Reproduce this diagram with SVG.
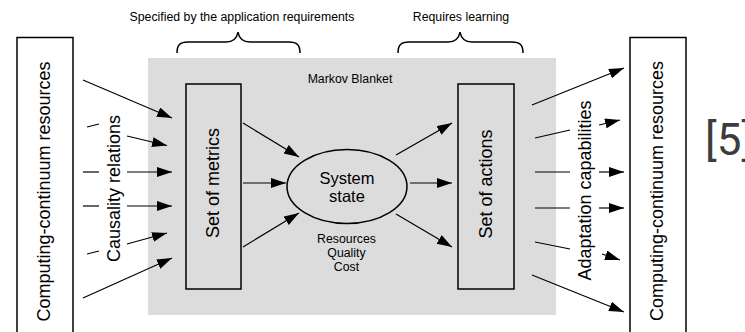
<svg xmlns="http://www.w3.org/2000/svg" width="745" height="332" viewBox="0 0 745 332">
  <defs>
    <marker id="head" markerUnits="userSpaceOnUse" markerWidth="16" markerHeight="11" refX="15" refY="5" orient="auto">
      <path d="M0,0 L15,5 L0,10 Z" fill="#000"/>
    </marker>
    <style>
      .box { fill: #fff; stroke: #000; stroke-width: 1.5; }
      .inner { fill: none; stroke: #000; stroke-width: 1.5; }
      .big { font-family: "Liberation Sans", Arial, sans-serif; font-size: 18px; fill: #000; text-anchor: middle; }
      .small { font-family: "Liberation Sans", Arial, sans-serif; font-size: 12.3px; fill: #000; text-anchor: middle; }
      .mid { font-family: "Liberation Sans", Arial, sans-serif; font-size: 16.5px; fill: #000; text-anchor: middle; }
      .wire { stroke: #000; stroke-width: 1.2; fill: none; }
      .arrow { stroke: #000; stroke-width: 1.2; fill: none; marker-end: url(#head); }
      .brace { stroke: #000; stroke-width: 1.5; fill: none; }
    </style>
  </defs>

  <rect width="745" height="332" fill="#fff"/>

  <!-- Markov blanket region -->
  <g id="markov-blanket">
    <rect x="148" y="58" width="408" height="257" fill="#dcdcdc"/>
    <text class="small" x="350" y="83">Markov Blanket</text>
  </g>

  <!-- Braces with captions -->
  <g id="brace-requirements">
    <text class="small" x="242" y="20.5">Specified by the application requirements</text>
    <path class="brace" d="M177,53 C177,45 180,42 188,42 L226,42 C233,42 237,38 238,32 C239,38 243,42 250,42 L289,42 C297,42 300,45 300,53"/>
  </g>
  <g id="brace-learning">
    <text class="small" x="461" y="20.5">Requires learning</text>
    <path class="brace" d="M398,53 C398,45 401,42 409,42 L448,42 C455,42 459,38 460,32 C461,38 465,42 472,42 L512,42 C520,42 523,45 523,53"/>
  </g>

  <!-- Nodes -->
  <g id="resources-left">
    <rect class="box" x="17" y="37.5" width="56" height="310"/>
    <text class="big" transform="translate(49.5,191.5) rotate(-90)">Computing-continuum resources</text>
  </g>

  <g id="metrics">
    <rect class="inner" x="186" y="84" width="55" height="205"/>
    <text class="big" transform="translate(219,183) rotate(-90)">Set of metrics</text>
  </g>

  <g id="system-state">
    <ellipse cx="347" cy="186.5" rx="60" ry="37" fill="none" stroke="#000" stroke-width="1.5"/>
    <text class="mid" x="347" y="184">System</text>
    <text class="mid" x="347" y="201.7">state</text>
    <text class="small" x="346.5" y="243.3">Resources</text>
    <text class="small" x="346.5" y="257.3">Quality</text>
    <text class="small" x="346.5" y="271">Cost</text>
  </g>

  <g id="actions">
    <rect class="inner" x="458" y="84" width="56" height="205"/>
    <text class="big" transform="translate(491.5,184) rotate(-90)">Set of actions</text>
  </g>

  <g id="resources-right">
    <rect class="box" x="630" y="37.5" width="56" height="310"/>
    <text class="big" transform="translate(663,191) rotate(-90)">Computing-continuum resources</text>
  </g>

  <g id="label-causality">
    <text class="big" transform="translate(120,188.5) rotate(-90)">Causality relations</text>
  </g>

  <g id="label-adaptation">
    <text class="big" transform="translate(591,190.5) rotate(-90)">Adaptation capabilities</text>
  </g>

  <g id="reference-tag">
    <text x="705" y="155" font-family="Roboto, sans-serif" font-size="44" fill="#3c3c3c">[5]</text>
  </g>

  <!-- Connectors -->
  <g id="connectors">
    <!-- resources to metrics -->
    <line class="arrow" x1="83" y1="80" x2="172" y2="118"/>
    <line class="wire" x1="87" y1="127" x2="99" y2="124"/>
    <line class="arrow" x1="127" y1="136" x2="167" y2="145.5"/>
    <line class="wire" x1="83" y1="172" x2="99" y2="172"/>
    <line class="arrow" x1="127" y1="172" x2="172" y2="172"/>
    <line class="wire" x1="83" y1="206" x2="99" y2="206"/>
    <line class="arrow" x1="127" y1="206" x2="172" y2="206"/>
    <line class="wire" x1="87" y1="254" x2="99" y2="251"/>
    <line class="arrow" x1="127" y1="244" x2="167" y2="233"/>
    <line class="arrow" x1="83" y1="298" x2="172" y2="258"/>

    <!-- metrics to system state -->
    <line class="arrow" x1="243" y1="123" x2="299" y2="157"/>
    <line class="arrow" x1="243" y1="183" x2="286" y2="183"/>
    <line class="arrow" x1="243" y1="247" x2="299" y2="213"/>

    <!-- system state to actions -->
    <line class="arrow" x1="396" y1="155" x2="452" y2="123"/>
    <line class="arrow" x1="410" y1="183" x2="452" y2="183"/>
    <line class="arrow" x1="396" y1="214" x2="452" y2="247"/>

    <!-- actions to resources -->
    <line class="arrow" x1="532" y1="105" x2="624" y2="68"/>
    <line class="wire" x1="535" y1="138" x2="570" y2="130"/>
    <line class="arrow" x1="599" y1="125" x2="620" y2="120"/>
    <line class="wire" x1="535" y1="172" x2="570" y2="172"/>
    <line class="arrow" x1="599" y1="172" x2="624" y2="172"/>
    <line class="wire" x1="535" y1="208" x2="570" y2="208"/>
    <line class="arrow" x1="599" y1="208" x2="624" y2="208"/>
    <line class="wire" x1="535" y1="242" x2="570" y2="249"/>
    <line class="arrow" x1="602" y1="254" x2="620" y2="260"/>
    <line class="arrow" x1="532" y1="275" x2="624" y2="312"/>
  </g>
</svg>
